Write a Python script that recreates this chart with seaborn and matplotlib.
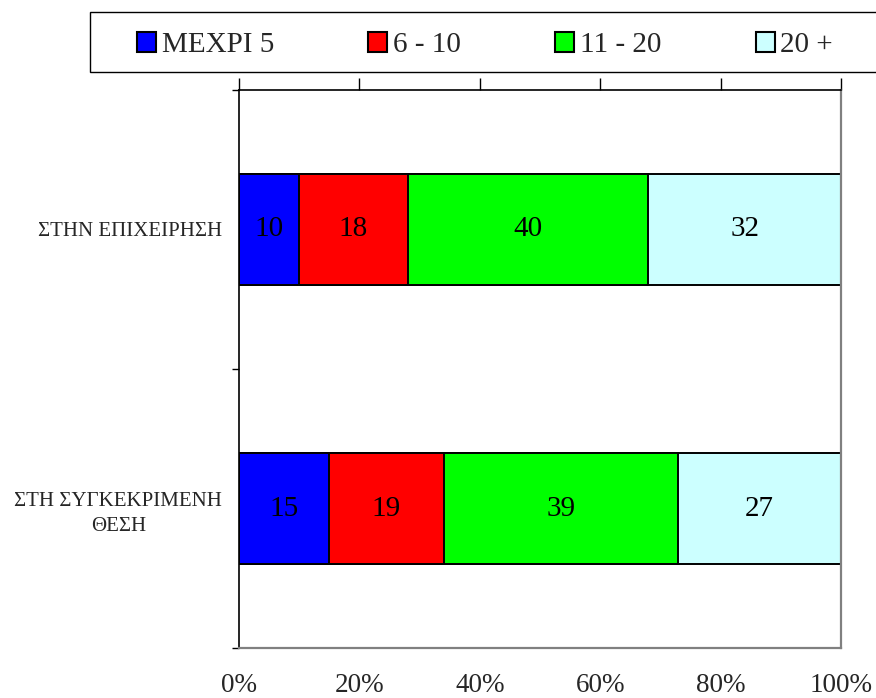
import matplotlib
matplotlib.use("Agg")
import matplotlib.pyplot as plt
import seaborn as sns
import pandas as pd
import numpy as np
from matplotlib.patches import Rectangle, Patch

categories = ["ΣΤΗΝ ΕΠΙΧΕΙΡΗΣΗ", "ΣΤΗ ΣΥΓΚΕΚΡΙΜΕΝΗ\nΘΕΣΗ"]
series_names = ["ΜΕΧΡΙ 5", "6 - 10", "11 - 20", "20 +"]
upto5 = [10, 15]
from6to10 = [18, 19]
from11to20 = [40, 39]
over20 = [32, 27]
colors = ["#0000FF", "#FF0000", "#00FF00", "#CCFFFF"]
xtick_labels = ["0%", "20%", "40%", "60%", "80%", "100%"]

sns.set_theme(style="white")
plt.rcParams['font.family'] = ['Liberation Serif', 'DejaVu Serif']

series = [upto5, from6to10, from11to20, over20]
cum = np.zeros(len(categories))
cums = []
for s in series:
    cum = cum + np.array(s)
    cums.append(cum.copy())

fig = plt.figure(figsize=(8.76, 6.98), dpi=100)
ax = fig.add_axes([239/876, 1-648/698, 602/876, 558/698])

# draw stacked: largest cumulative first
for i in reversed(range(len(series))):
    d = pd.DataFrame({"category": categories, "value": cums[i]})
    sns.barplot(data=d, y="category", x="value", orient="h", color=colors[i],
                width=0.4, edgecolor="black", linewidth=1.4, saturation=1, ax=ax)

for i, s in enumerate(series):
    for j, v in enumerate(s):
        center = cums[i][j] - v / 2
        ax.text(center, j, str(v), ha="center", va="center", fontsize=21, color="black")

ax.set_xlim(0, 100)
ax.set_ylim(1.5, -0.5)
ax.set_xlabel("")
ax.set_ylabel("")

# x ticks: marks on top, labels at bottom
ax.set_xticks([0, 20, 40, 60, 80, 100])
ax.set_xticklabels(xtick_labels, fontsize=19.5)
ax.tick_params(axis="x", which="major", bottom=False, top=True, labelbottom=True,
               labeltop=False, direction="out", length=9, width=1, color="black", pad=9)

# y: category labels at centers, marks at boundaries
ax.set_yticks([0, 1])
ax.set_yticklabels(categories, fontsize=15, multialignment="center", linespacing=1.45)
ax.set_yticks([-0.5, 0.5, 1.5], minor=True)
ax.tick_params(axis="y", which="major", left=False, length=0, pad=12)
ax.tick_params(axis="y", which="minor", left=True, length=5, width=1, color="black", direction="out")

for side in ["top", "left"]:
    ax.spines[side].set_visible(True)
    ax.spines[side].set_color("black")
    ax.spines[side].set_linewidth(1.2)
for side in ["right", "bottom"]:
    ax.spines[side].set_visible(True)
    ax.spines[side].set_color("#808080")
    ax.spines[side].set_linewidth(1.6)

# legend frame
fig.patches.append(Rectangle((90/876, 1-72/698), 800/876, 60/698, transform=fig.transFigure,
                             facecolor="white", edgecolor="black", linewidth=1.0, zorder=0))
handles = [Patch(facecolor=c, edgecolor="black", linewidth=1.5) for c in colors]
fig.legend(handles, series_names, loc="center", ncol=4, mode="expand",
           bbox_to_anchor=(137/876, 1-75/698, 696/876, 60/698),
           frameon=False, fontsize=21, handlelength=0.65, handleheight=0.68,
           handletextpad=0.2, borderpad=0, borderaxespad=0, columnspacing=1.0)

fig.savefig("out.png", dpi=100)
